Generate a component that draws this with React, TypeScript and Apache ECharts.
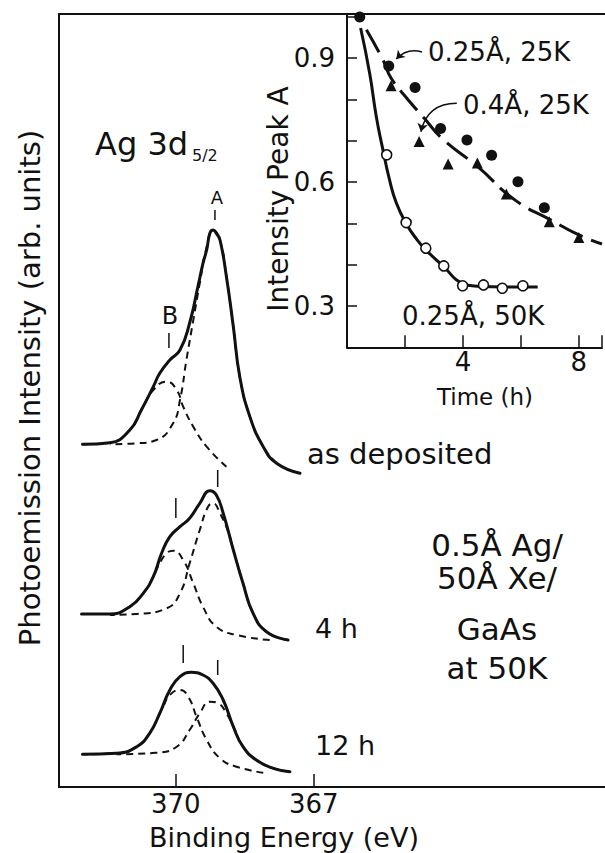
import React, { useEffect, useRef } from 'react';
import * as echarts from 'echarts';

const FONT = '"DejaVu Sans", "Liberation Sans", sans-serif';
const INK = '#111111';

// ---------- main panel: Ag 3d5/2 spectra (binding energy eV, intensity arb. units) ----------
const energyTicks = [370, 367];

const topTotal = [
  [372.03, 34.27], [371.43, 34.43], [371.0, 35.7], [370.75, 37.7], [370.49, 40.03], [370.35, 41.37],
  [370.13, 42.7], [369.91, 43.7], [369.7, 46.4], [369.52, 50.03], [369.41, 52.37], [369.33, 53.7],
  [369.26, 55.37], [369.19, 55.7], [369.12, 55.37], [369.04, 54.7], [368.9, 51.03], [368.75, 46.03],
  [368.61, 41.03], [368.39, 37.03], [368.1, 34.03], [367.81, 32.37], [367.3, 31.37],
];
const topPeakA = [
  [371.43, 34.27], [370.85, 34.37], [370.42, 34.7], [370.06, 36.37], [369.91, 38.7], [369.77, 42.7],
  [369.62, 46.7], [369.48, 50.37], [369.33, 54.03], [369.19, 55.7], [369.04, 54.7], [368.9, 51.03],
  [368.75, 46.03], [368.61, 41.03], [368.39, 37.03], [368.1, 34.03], [367.81, 32.37],
];
const topPeakB = [
  [372.03, 34.27], [371.43, 34.43], [371.0, 35.7], [370.75, 37.7], [370.49, 39.7], [370.2, 40.53],
  [369.98, 39.7], [369.84, 38.03], [369.62, 36.03], [369.33, 34.03], [368.9, 32.03],
];

const midTotal = [
  [372.05, 17.3], [371.43, 17.3], [371.0, 18.03], [370.71, 19.37], [370.49, 21.03], [370.31, 23.37],
  [370.13, 25.03], [369.91, 26.03], [369.7, 26.87], [369.48, 28.37], [369.26, 29.63], [369.12, 29.2],
  [368.97, 27.37], [368.75, 23.7], [368.54, 20.37], [368.32, 17.37], [368.03, 15.53], [367.56, 14.7],
];
const midPeakA = [
  [371.43, 17.2], [370.85, 17.3], [370.2, 17.87], [369.91, 19.37], [369.7, 22.37], [369.48, 25.7],
  [369.3, 28.03], [369.19, 28.37], [369.04, 27.37], [368.85, 25.37], [368.75, 23.7], [368.54, 20.37],
  [368.32, 17.37], [368.03, 15.53], [367.56, 14.7],
];
const midPeakB = [
  [372.05, 17.3], [371.43, 17.3], [371.0, 18.03], [370.71, 19.37], [370.49, 21.03], [370.39, 22.03],
  [370.2, 23.37], [370.06, 23.63], [369.84, 22.7], [369.62, 20.37], [369.41, 18.03], [369.12, 16.03],
  [368.68, 15.2], [367.96, 14.7],
];

const botTotal = [
  [372.03, 3.27], [371.29, 3.37], [370.85, 4.03], [370.57, 5.37], [370.35, 7.37], [370.13, 9.7],
  [369.91, 11.03], [369.66, 11.47], [369.41, 11.2], [369.19, 10.37], [368.97, 8.7], [368.75, 6.03],
  [368.54, 4.03], [368.25, 2.7], [367.88, 1.87], [367.52, 1.53],
];
const botPeakB = [
  [372.03, 3.27], [371.29, 3.37], [370.85, 4.03], [370.57, 5.37], [370.35, 7.37], [370.28, 8.03],
  [370.13, 9.2], [369.91, 9.7], [369.73, 9.03], [369.55, 7.03], [369.33, 4.7], [369.04, 2.87],
  [368.68, 2.03], [368.1, 1.43],
];
const botPeakA = [
  [371.29, 3.27], [370.42, 3.43], [369.98, 4.03], [369.7, 5.7], [369.48, 7.37], [369.26, 8.53],
  [369.08, 8.37], [368.9, 7.37], [368.75, 6.03], [368.54, 4.03], [368.25, 2.7], [367.88, 1.87],
  [367.52, 1.53],
];

// short vertical peak-position markers
const markEnergy = [369.15, 370.15, 369.09, 370.0, 369.84, 369.09];
const markLow = [56.7, 43.9, 30.0, 26.9, 12.4, 11.2];
const markHigh = [57.7, 45.4, 31.7, 28.9, 14.2, 12.7];

// ---------- inset: intensity of peak A vs time ----------
const timeTicks = [4, 8];
const times25K = [0.44, 1.44, 2.35, 3.23, 4.14, 4.99, 5.9, 6.81];
const peak25K = [1.0, 0.881, 0.829, 0.73, 0.702, 0.665, 0.601, 0.538];
const times04 = [1.52, 2.49, 3.49, 4.5, 5.5, 6.98, 8.0];
const peak04 = [0.833, 0.698, 0.644, 0.646, 0.571, 0.504, 0.466];
const times50K = [1.37, 2.04, 2.72, 3.34, 3.99, 4.71, 5.36, 6.07];
const peak50K = [0.666, 0.502, 0.44, 0.397, 0.349, 0.351, 0.343, 0.349];
const fit50K = [
  [0.47, 0.973], [0.78, 0.864], [1.01, 0.759], [1.24, 0.678], [1.47, 0.605], [1.7, 0.55],
  [2.04, 0.5], [2.4, 0.462], [2.72, 0.436], [3.34, 0.395], [3.97, 0.355], [4.5, 0.348],
  [5.5, 0.346], [6.58, 0.346],
];
const fit25K = [
  [0.67, 0.969], [1.24, 0.896], [1.52, 0.852], [2.1, 0.8], [2.66, 0.755], [3.28, 0.706],
  [4.53, 0.636], [5.79, 0.557], [7.04, 0.508], [8.0, 0.472], [8.8, 0.45],
];
const arrowFrom = [[2.59, 0.915], [3.79, 0.791]];
const arrowTo = [[1.7, 0.898], [2.55, 0.722]];
const arrowBend = [-0.3, -0.4];

const zip = (xs: number[], ys: number[]) => xs.map((x, i) => [x, ys[i]]);
const ascending = (data: number[][]) => data.slice().sort((a, b) => a[0] - b[0]);

const solid = (data: number[][]) => ({
  type: 'line', xAxisIndex: 0, yAxisIndex: 0, data: ascending(data), showSymbol: false, symbol: 'none',
  smooth: 0.5, z: 5,
  lineStyle: { color: INK, width: 3, join: 'round', cap: 'round' },
});
const dashed = (data: number[][]) => ({
  type: 'line', xAxisIndex: 0, yAxisIndex: 0, data: ascending(data), showSymbol: false, symbol: 'none',
  smooth: 0.5, z: 3,
  lineStyle: { color: INK, width: 2, type: [7, 5] },
});
const marker = (i: number) => ({
  type: 'line', xAxisIndex: 0, yAxisIndex: 0, symbol: 'none', showSymbol: false,
  data: [[markEnergy[i], markLow[i]], [markEnergy[i], markHigh[i]]],
  lineStyle: { color: INK, width: 1.5 },
});

const txt = (text: string, x: number, y: number, size: number, align = 'left', rotation = 0) => ({
  type: 'text', x, y, rotation, z: 20,
  style: {
    text, fill: INK, fontSize: size, fontFamily: FONT,
    align, verticalAlign: 'middle', textAlign: align, textVerticalAlign: 'middle',
  },
});

const option: any = {
  animation: false,
  backgroundColor: '#ffffff',
  textStyle: { fontFamily: FONT, color: INK },
  grid: [
    { left: 59, top: 14, right: 0, bottom: 66 },
    { left: 347, top: 14, right: 0, bottom: 505.7 },
  ],
  xAxis: [
    {
      type: 'value', gridIndex: 0, min: 360.67, max: 372.54, inverse: true, position: 'bottom',
      axisLine: { show: true, onZero: false, lineStyle: { color: INK, width: 2 } },
      axisTick: { show: true, inside: true, length: 13, customValues: energyTicks, lineStyle: { color: INK, width: 1.5 } },
      axisLabel: { show: true, customValues: energyTicks, margin: 4, fontSize: 26, color: INK, fontFamily: FONT },
      splitLine: { show: false },
    },
    {
      type: 'value', gridIndex: 1, min: 0, max: 8.8, interval: 2, position: 'bottom',
      axisLine: { show: true, onZero: false, lineStyle: { color: INK, width: 2 } },
      axisTick: { show: true, inside: true, length: 12, lineStyle: { color: INK, width: 1.5 } },
      axisLabel: {
        show: true, margin: 2, fontSize: 26, color: INK, fontFamily: FONT,
        formatter: (v: number) => (timeTicks.includes(Math.round(v)) ? String(Math.round(v)) : ''),
      },
      splitLine: { show: false },
    },
    {
      type: 'value', gridIndex: 0, min: 360.67, max: 372.54, inverse: true, position: 'top',
      axisLine: { show: true, onZero: false, lineStyle: { color: INK, width: 2 } },
      axisTick: { show: false }, axisLabel: { show: false }, splitLine: { show: false },
    },
  ],
  yAxis: [
    {
      type: 'value', gridIndex: 0, min: 0, max: 77.3,
      axisLine: { show: true, onZero: false, lineStyle: { color: INK, width: 2 } },
      axisTick: { show: false }, axisLabel: { show: false }, splitLine: { show: false },
    },
    {
      type: 'value', gridIndex: 1, min: 0.2, max: 1.007, interval: 0.1,
      axisLine: { show: true, onZero: false, lineStyle: { color: INK, width: 2 } },
      axisTick: { show: true, inside: true, length: 10, lineStyle: { color: INK, width: 1.5 } },
      axisLabel: {
        show: true, margin: 12, fontSize: 26, color: INK, fontFamily: FONT,
        formatter: (v: number) => {
          const r = Math.round(v * 10);
          return r === 3 || r === 6 || r === 9 ? (r / 10).toFixed(1) : '';
        },
      },
      splitLine: { show: false },
    },
  ],
  series: [
    dashed(topPeakA), dashed(topPeakB), solid(topTotal),
    dashed(midPeakA), dashed(midPeakB), solid(midTotal),
    dashed(botPeakA), dashed(botPeakB), solid(botTotal),
    ...markEnergy.map((_, i) => marker(i)),
    {
      type: 'line', xAxisIndex: 1, yAxisIndex: 1, data: fit50K, symbol: 'none', showSymbol: false,
      smooth: 0.5, lineStyle: { color: INK, width: 3 }, z: 3,
    },
    {
      type: 'line', xAxisIndex: 1, yAxisIndex: 1, data: fit25K, symbol: 'none', showSymbol: false,
      smooth: 0.5, lineStyle: { color: INK, width: 3, type: [26, 9] }, z: 3,
    },
    {
      type: 'scatter', xAxisIndex: 1, yAxisIndex: 1, data: zip(times25K, peak25K),
      symbol: 'circle', symbolSize: 11, itemStyle: { color: INK, opacity: 1 }, z: 6,
    },
    {
      type: 'scatter', xAxisIndex: 1, yAxisIndex: 1, data: zip(times04, peak04),
      symbol: 'triangle', symbolSize: 11, itemStyle: { color: INK, opacity: 1 }, z: 6,
    },
    {
      type: 'scatter', xAxisIndex: 1, yAxisIndex: 1, data: zip(times50K, peak50K),
      symbol: 'circle', symbolSize: 10, itemStyle: { color: '#ffffff', borderColor: INK, borderWidth: 1.6, opacity: 1 }, z: 6,
    },
    {
      type: 'lines', coordinateSystem: 'cartesian2d', xAxisIndex: 1, yAxisIndex: 1,
      symbol: ['none', 'arrow'], symbolSize: 8, z: 7,
      lineStyle: { color: INK, width: 1.5, opacity: 1 },
      data: arrowFrom.map((p, i) => ({ coords: [p, arrowTo[i]], lineStyle: { curveness: arrowBend[i], opacity: 1, color: INK } })),
    },
  ],
  graphic: [
    txt('Photoemission Intensity (arb. units)', 30, 388, 29, 'center', Math.PI / 2),
    txt('Binding Energy (eV)', 284, 837, 27, 'center'),
    txt('Ag 3d', 95, 144, 32),
    txt('5/2', 192, 155, 16),
    txt('A', 217, 197, 18, 'center'),
    txt('B', 170, 316, 24, 'center'),
    txt('as deposited', 307, 454, 29),
    txt('4 h', 315, 628, 27),
    txt('12 h', 315, 745, 27),
    txt('0.5Å Ag/', 497, 545, 31, 'center'),
    txt('50Å Xe/', 497, 578, 31, 'center'),
    txt('GaAs', 497, 629, 31, 'center'),
    txt('at 50K', 497, 668, 31, 'center'),
    txt('Intensity Peak A', 278, 199, 28, 'center', Math.PI / 2),
    txt('Time (h)', 485, 397, 23, 'center'),
    txt('0.25Å, 25K', 428, 52, 26),
    txt('0.4Å, 25K', 463, 105, 26),
    txt('0.25Å, 50K', 402, 316, 26),
  ],
};

export default function App() {
  const ref = useRef<HTMLDivElement>(null);
  useEffect(() => {
    const chart = echarts.init(ref.current as HTMLDivElement, null, { renderer: 'svg' });
    chart.setOption(option);
    return () => chart.dispose();
  }, []);
  return (
    <div
      ref={ref}
      style={{ position: 'absolute', left: 0, top: 0, width: 605, height: 853, background: '#ffffff' }}
    />
  );
}
